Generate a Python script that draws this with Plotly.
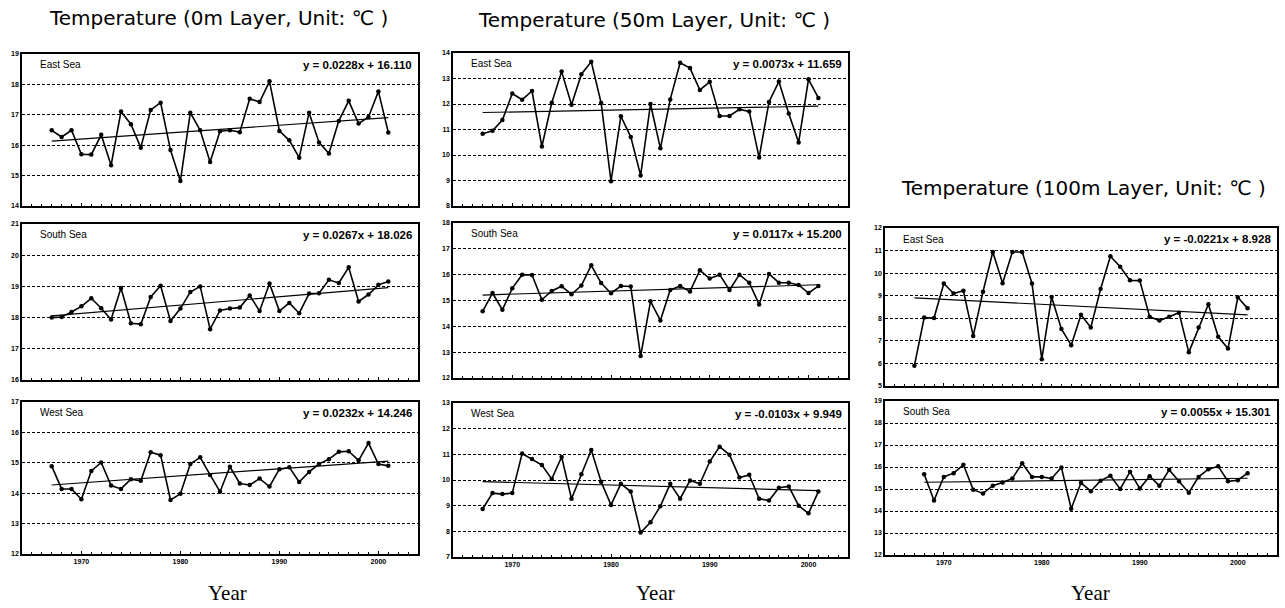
import plotly.graph_objects as go

W, H = 1285, 608

# ---------------- data ----------------
years_a = list(range(1967, 2002))   # 35 years
years_b = list(range(1968, 2002))   # 34 years (100m South Sea)

t0_east = [16.49, 16.27, 16.49, 15.70, 15.69, 16.34, 15.34, 17.11, 16.69, 15.92,
           17.16, 17.40, 15.84, 14.82, 17.07, 16.49, 15.45, 16.46, 16.49, 16.43,
           17.53, 17.42, 18.10, 16.47, 16.16, 15.59, 17.07, 16.09, 15.73, 16.80,
           17.46, 16.71, 16.93, 17.77, 16.42]
t0_south = [18.00, 18.02, 18.18, 18.36, 18.62, 18.30, 17.94, 18.95, 17.82, 17.79,
            18.66, 19.02, 17.89, 18.29, 18.82, 19.00, 17.63, 18.23, 18.29, 18.32,
            18.71, 18.21, 19.09, 18.21, 18.47, 18.14, 18.77, 18.78, 19.21, 19.11,
            19.61, 18.52, 18.74, 19.05, 19.16]
t0_west = [14.89, 14.14, 14.14, 13.80, 14.73, 15.01, 14.25, 14.14, 14.46, 14.41,
           15.35, 15.25, 13.78, 13.98, 14.96, 15.18, 14.60, 14.05, 14.87, 14.32,
           14.27, 14.48, 14.22, 14.79, 14.85, 14.37, 14.70, 14.96, 15.12, 15.36,
           15.38, 15.08, 15.65, 14.96, 14.90]
t50_east = [10.83, 10.95, 11.37, 12.41, 12.17, 12.51, 10.33, 12.05, 13.27, 11.97,
            13.17, 13.66, 12.04, 8.97, 11.52, 10.71, 9.20, 12.00, 10.26, 12.18,
            13.62, 13.41, 12.55, 12.87, 11.53, 11.53, 11.79, 11.71, 9.90, 12.08,
            12.88, 11.63, 10.49, 12.97, 12.24]
t50_south = [14.58, 15.29, 14.64, 15.47, 16.00, 15.99, 15.03, 15.37, 15.55, 15.24,
             15.58, 16.36, 15.68, 15.28, 15.56, 15.54, 12.85, 14.97, 14.23, 15.41,
             15.56, 15.35, 16.17, 15.85, 16.00, 15.41, 16.00, 15.69, 14.85, 16.03,
             15.69, 15.69, 15.60, 15.29, 15.56]
t50_west = [8.87, 9.49, 9.45, 9.49, 11.03, 10.82, 10.58, 10.04, 10.90, 9.27,
            10.22, 11.17, 9.93, 9.03, 9.85, 9.55, 7.95, 8.35, 8.98, 9.85,
            9.27, 9.98, 9.85, 10.72, 11.30, 10.98, 10.10, 10.20, 9.27, 9.20,
            9.70, 9.75, 9.00, 8.70, 9.55]
t100_east = [5.90, 8.03, 8.01, 9.54, 9.10, 9.22, 7.22, 9.18, 10.94, 9.55,
             10.94, 10.94, 9.54, 6.19, 8.94, 7.53, 6.81, 8.16, 7.59, 9.30,
             10.75, 10.28, 9.68, 9.67, 8.07, 7.90, 8.07, 8.25, 6.49, 7.59,
             8.62, 7.18, 6.66, 8.93, 8.44]
t100_south = [15.67, 14.48, 15.55, 15.72, 16.10, 14.97, 14.80, 15.15, 15.30, 15.48,
              16.17, 15.55, 15.55, 15.48, 15.98, 14.10, 15.28, 14.90, 15.38, 15.60,
              15.00, 15.78, 15.02, 15.58, 15.15, 15.87, 15.35, 14.83, 15.55, 15.90,
              16.03, 15.35, 15.40, 15.72]

# trend-line coefficients (x = 1, 2, ... n)
slopes = [0.0228, 0.0267, 0.0232, 0.0073, 0.0117, -0.0103, -0.0221, 0.0055]
intercepts = [16.110, 18.026, 14.246, 11.659, 15.200, 9.949, 8.928, 15.301]

names = ["East Sea", "South Sea", "West Sea", "East Sea", "South Sea", "West Sea",
         "East Sea", "South Sea"]
series = [t0_east, t0_south, t0_west, t50_east, t50_south, t50_west, t100_east, t100_south]
series_years = [years_a] * 7 + [years_b]
y_ranges = [(14, 19), (16, 21), (12, 17), (8, 14), (12, 18), (7, 13), (5, 12), (12, 19)]

col_titles = ["Temperature (0m Layer, Unit: \u2103 )",
              "Temperature (50m Layer, Unit: \u2103 )",
              "Temperature (100m Layer, Unit: \u2103 )"]
x_tick_years = [1970, 1980, 1990, 2000]
x_title = "Year"

# ---------------- layout (pixel boxes: left, right, top, bottom) ----------------
boxes = [(22, 418, 54, 206), (22, 418, 224, 380), (22, 418, 402, 554),
         (453, 848, 53, 206), (453, 848, 223, 378), (453, 848, 403, 557),
         (885, 1277, 228, 386), (885, 1277, 401, 555)]
show_xlabels = [False, False, True, False, False, True, False, True]

fig = go.Figure()
layout = {}
annotations = []

for i in range(8):
    k = i + 1
    xa = "x" if k == 1 else f"x{k}"
    ya = "y" if k == 1 else f"y{k}"
    yrs = series_years[i]
    vals = series[i]
    fig.add_trace(go.Scatter(x=yrs, y=vals, mode="lines+markers", xaxis=xa, yaxis=ya,
                             line=dict(color="black", width=1.6),
                             marker=dict(color="black", size=4.5), showlegend=False,
                             hoverinfo="x+y"))
    idx = list(range(1, len(yrs) + 1))
    trend = [slopes[i] * n + intercepts[i] for n in idx]
    fig.add_trace(go.Scatter(x=yrs, y=trend, mode="lines", xaxis=xa, yaxis=ya,
                             line=dict(color="black", width=1.2), showlegend=False,
                             hoverinfo="skip"))
    l, r, t, b = boxes[i]
    xkey = "xaxis" if k == 1 else f"xaxis{k}"
    ykey = "yaxis" if k == 1 else f"yaxis{k}"
    layout[xkey] = dict(domain=[l / W, r / W], range=[1964, 2004], anchor=ya,
                        automargin=False,
                        showgrid=False, zeroline=False,
                        showline=True, mirror=True, linecolor="black", linewidth=1.5,
                        tickmode="array", tickvals=x_tick_years,
                        ticktext=[str(v) for v in x_tick_years],
                        ticks="inside", ticklen=3, tickcolor="black",
                        minor=dict(dtick=1, tick0=1964, ticks="inside", ticklen=2,
                                   tickcolor="black", showgrid=False),
                        showticklabels=show_xlabels[i],
                        tickfont=dict(family="Liberation Sans", size=7, color="black",
                                      weight="bold"))
    lo, hi = y_ranges[i]
    layout[ykey] = dict(domain=[1 - b / H, 1 - t / H], range=[lo, hi], anchor=xa,
                        automargin=False,
                        dtick=1, tick0=lo, showgrid=True, gridcolor="black",
                        gridwidth=1, griddash="3px,2px", zeroline=False,
                        showline=True, mirror=True, linecolor="black", linewidth=1.5,
                        ticks="", tickfont=dict(family="Liberation Sans", size=7,
                                                color="black", weight="bold"))
    annotations.append(dict(text=names[i], xref=f"{xa} domain", yref=f"{ya} domain",
                            x=0.04, y=0.93, xanchor="left", yanchor="middle",
                            showarrow=False,
                            font=dict(family="Liberation Sans", size=10, color="black")))
    sign = "+" if intercepts[i] >= 0 else "-"
    eq = f"y = {slopes[i]:.4f}x {sign} {abs(intercepts[i]):.3f}"
    annotations.append(dict(text=eq, xref=f"{xa} domain", yref=f"{ya} domain",
                            x=0.99, y=0.93, xanchor="right", yanchor="middle",
                            showarrow=False,
                            font=dict(family="Liberation Sans", size=11.5, color="black",
                                      weight="bold")))

# column titles
title_pos = [(218, 18), (654, 20), (1083, 188)]
for txt, (px, py) in zip(col_titles, title_pos):
    annotations.append(dict(text=txt, xref="paper", yref="paper", x=px / W, y=1 - py / H,
                            xanchor="center", yanchor="middle", showarrow=False,
                            font=dict(family="DejaVu Sans", size=20, color="black")))

# Year labels
for px in [227, 655, 1090]:
    annotations.append(dict(text=x_title, xref="paper", yref="paper", x=px / W,
                            y=1 - 593 / H, xanchor="center", yanchor="middle",
                            showarrow=False,
                            font=dict(family="Liberation Serif", size=21, color="black")))

fig.update_layout(width=W, height=H, margin=dict(l=0, r=0, t=0, b=0),
                  paper_bgcolor="white", plot_bgcolor="white",
                  annotations=annotations, **layout)

fig.write_html("out.html",
               config={"displayModeBar": False},
               post_script="document.body.style.margin='0px';"
                           "document.body.style.overflow='hidden';")
